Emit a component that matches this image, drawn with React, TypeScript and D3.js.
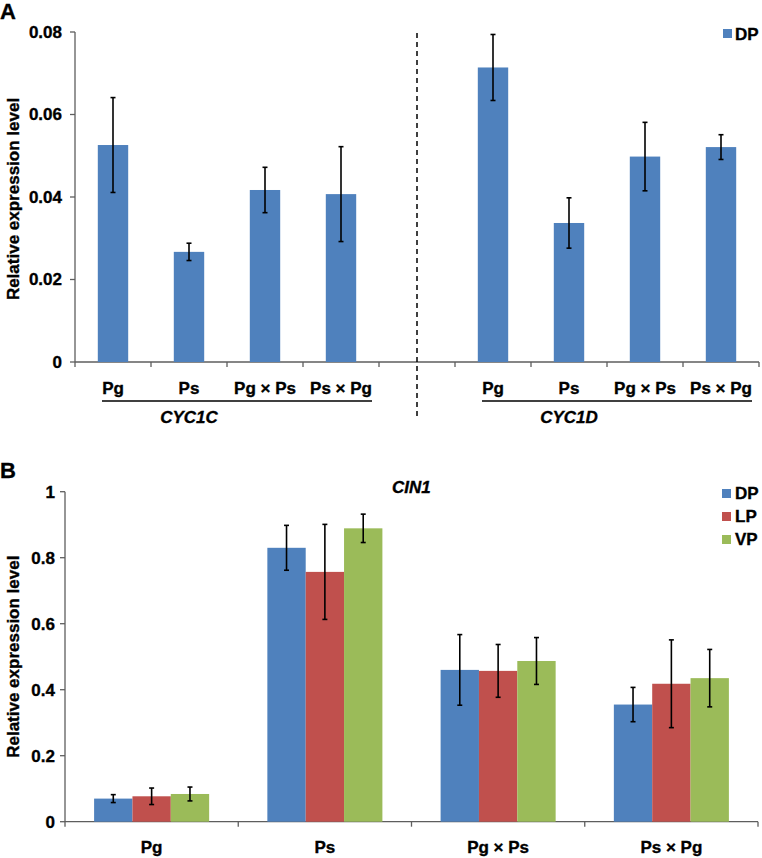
import React from "react";
import * as d3 from "d3";

const FONT = "'Liberation Sans', Arial, sans-serif";

// Panel A
const aSlots = ["C-Pg", "C-Ps", "C-PgPs", "C-PsPg", "gap", "D-Pg", "D-Ps", "D-PgPs", "D-PsPg"];
const aLabels = ["Pg", "Ps", "Pg × Ps", "Ps × Pg", "", "Pg", "Ps", "Pg × Ps", "Ps × Pg"];
const aValues = [0.0526, 0.0267, 0.0417, 0.0407, null, 0.0714, 0.0337, 0.0498, 0.0521];
const aErrors = [0.0115, 0.0021, 0.0055, 0.0115, null, 0.008, 0.0061, 0.0083, 0.003];
const aTicks = [0, 0.02, 0.04, 0.06, 0.08];
const aTickLabels = ["0", "0.02", "0.04", "0.06", "0.08"];
const aGenes = ["CYC1C", "CYC1D"];

// Panel B
const bGroups = ["Pg", "Ps", "Pg × Ps", "Ps × Pg"];
const bSeries = ["DP", "LP", "VP"];
const bColors = ["#4F81BD", "#C0504D", "#9BBB59"];
const bDP = [0.07, 0.83, 0.46, 0.355];
const bLP = [0.077, 0.757, 0.457, 0.418];
const bVP = [0.084, 0.889, 0.487, 0.435];
const bDPerr = [0.012, 0.068, 0.107, 0.052];
const bLPerr = [0.025, 0.144, 0.08, 0.133];
const bVPerr = [0.021, 0.043, 0.071, 0.087];
const bTicks = [0, 0.2, 0.4, 0.6, 0.8, 1];
const bTickLabels = ["0", "0.2", "0.4", "0.6", "0.8", "1"];

const AXIS = "#5e5e5e";

function ErrorBar({ x, y1, y2 }: { x: number; y1: number; y2: number }) {
  return (
    <g stroke="#000" strokeWidth={1.6}>
      <line x1={x} x2={x} y1={y1} y2={y2} />
      <line x1={x - 2.5} x2={x + 2.5} y1={y1} y2={y1} />
      <line x1={x - 2.5} x2={x + 2.5} y1={y2} y2={y2} />
    </g>
  );
}

export default function App() {
  // ----- Panel A scales
  const axL = 75, axR = 759, ayTop = 32, ayBot = 362;
  const xA = d3.scaleBand<string>().domain(aSlots).range([axL, axR]).paddingInner(0.6).paddingOuter(0.3);
  const yA = d3.scaleLinear().domain([0, 0.08]).range([ayBot, ayTop]);
  const stepA = xA.step();

  // ----- Panel B scales
  const bxL = 65, bxR = 758, byTop = 491.7, byBot = 821.7;
  const xB = d3.scaleBand<string>().domain(bGroups).range([bxL, bxR]).paddingInner(0.336).paddingOuter(0.168);
  const xBi = d3.scaleBand<string>().domain(bSeries).range([0, xB.bandwidth()]);
  const yB = d3.scaleLinear().domain([0, 1]).range([byBot, byTop]);
  const stepB = xB.step();
  const bVals = [bDP, bLP, bVP];
  const bErrs = [bDPerr, bLPerr, bVPerr];

  const tickStyle = {
    fontFamily: FONT,
    fontWeight: 700,
    fontSize: 17,
    fill: "#000",
    stroke: "#000",
    strokeWidth: 0.35,
  } as const;

  return (
    <svg width={762} height={858} style={{ position: "absolute", left: 0, top: 0, background: "#fff" }}>
      {/* ================= Panel A ================= */}
      <text x={0} y={19} style={{ ...tickStyle, fontSize: 22 }}>A</text>
      <text
        transform={`translate(19,${(ayTop + ayBot) / 2 + 2}) rotate(-90)`}
        textAnchor="middle"
        style={tickStyle}
      >
        Relative expression level
      </text>
      {/* y axis */}
      <line x1={axL} x2={axL} y1={ayTop} y2={ayBot} stroke={AXIS} strokeWidth={1.3} />
      {aTicks.map((t, i) => (
        <g key={"at" + i}>
          <line x1={axL - 5} x2={axL} y1={yA(t)} y2={yA(t)} stroke={AXIS} strokeWidth={1.3} />
          <text x={axL - 13} y={yA(t)} dy="0.35em" textAnchor="end" style={tickStyle}>
            {aTickLabels[i]}
          </text>
        </g>
      ))}
      {/* x axis */}
      <line x1={axL} x2={axR} y1={ayBot} y2={ayBot} stroke={AXIS} strokeWidth={1.3} />
      {d3.range(aSlots.length + 1).map((i) => (
        <line key={"axt" + i} x1={axL + i * stepA} x2={axL + i * stepA} y1={ayBot} y2={ayBot + 5} stroke={AXIS} strokeWidth={1.3} />
      ))}
      {/* bars */}
      {aSlots.map((s, i) => {
        const v = aValues[i];
        const e = aErrors[i];
        if (v == null || e == null) return null;
        const x0 = xA(s)!;
        const cx = x0 + xA.bandwidth() / 2;
        return (
          <g key={"ab" + i}>
            <rect x={x0} y={yA(v)} width={xA.bandwidth()} height={ayBot - yA(v)} fill={bColors[0]} />
            <ErrorBar x={cx} y1={yA(v + e)} y2={yA(v - e)} />
          </g>
        );
      })}
      {/* category labels */}
      {aSlots.map((s, i) => (
        <text key={"al" + i} x={xA(s)! + xA.bandwidth() / 2} y={388} dy="0.35em" textAnchor="middle" style={tickStyle}>
          {aLabels[i]}
        </text>
      ))}
      {/* gene brackets */}
      {aGenes.map((g, gi) => {
        const first = aSlots[gi * 5];
        const last = aSlots[gi * 5 + 3];
        const x1 = xA(first)! + xA.bandwidth() / 2 - 11;
        const x2 = xA(last)! + xA.bandwidth() / 2 + 31;
        const mid = (xA(first)! + xA(aSlots[gi * 5 + 1])! + xA.bandwidth()) / 2 + stepA / 2;
        return (
          <g key={"g" + gi}>
            <line x1={x1} x2={x2} y1={401} y2={401} stroke="#000" strokeWidth={1.6} />
            <text x={mid} y={417} dy="0.35em" textAnchor="middle" style={{ ...tickStyle, fontStyle: "italic" }}>
              {g}
            </text>
          </g>
        );
      })}
      {/* dashed separator */}
      <line
        x1={xA("gap")! + xA.bandwidth() / 2}
        x2={xA("gap")! + xA.bandwidth() / 2}
        y1={33}
        y2={420}
        stroke="#000"
        strokeWidth={1.5}
        strokeDasharray="5,4"
      />
      {/* legend A */}
      <rect x={723} y={29} width={9} height={9} fill={bColors[0]} />
      <text x={735} y={34} dy="0.35em" style={tickStyle}>DP</text>

      {/* ================= Panel B ================= */}
      <text x={0} y={478} style={{ ...tickStyle, fontSize: 22 }}>B</text>
      <text x={392} y={487} dy="0.35em" style={{ ...tickStyle, fontStyle: "italic" }}>CIN1</text>
      <text
        transform={`translate(19,${(byTop + byBot) / 2}) rotate(-90)`}
        textAnchor="middle"
        style={tickStyle}
      >
        Relative expression level
      </text>
      <line x1={bxL} x2={bxL} y1={byTop} y2={byBot} stroke={AXIS} strokeWidth={1.3} />
      {bTicks.map((t, i) => (
        <g key={"bt" + i}>
          <line x1={bxL - 5} x2={bxL} y1={yB(t)} y2={yB(t)} stroke={AXIS} strokeWidth={1.3} />
          <text x={bxL - 10} y={yB(t)} dy="0.35em" textAnchor="end" style={tickStyle}>
            {bTickLabels[i]}
          </text>
        </g>
      ))}
      <line x1={bxL} x2={bxR} y1={byBot} y2={byBot} stroke={AXIS} strokeWidth={1.3} />
      {d3.range(bGroups.length + 1).map((i) => (
        <line key={"bxt" + i} x1={bxL + i * stepB} x2={bxL + i * stepB} y1={byBot} y2={byBot + 5} stroke={AXIS} strokeWidth={1.3} />
      ))}
      {bGroups.map((g, gi) => (
        <g key={"bg" + gi} transform={`translate(${xB(g)},0)`}>
          {bSeries.map((s, si) => {
            const v = bVals[si][gi];
            return (
              <rect key={s} x={xBi(s)} y={yB(v)} width={xBi.bandwidth()} height={byBot - yB(v)} fill={bColors[si]} />
            );
          })}
          {bSeries.map((s, si) => {
            const v = bVals[si][gi];
            const e = bErrs[si][gi];
            return <ErrorBar key={"e" + s} x={xBi(s)! + xBi.bandwidth() / 2} y1={yB(v + e)} y2={yB(v - e)} />;
          })}
          <text x={xB.bandwidth() / 2} y={847} dy="0.35em" textAnchor="middle" style={tickStyle}>
            {g}
          </text>
        </g>
      ))}
      {/* legend B */}
      {bSeries.map((s, si) => (
        <g key={"lg" + s}>
          <rect x={722} y={489 + si * 23} width={9} height={9} fill={bColors[si]} />
          <text x={735} y={493.5 + si * 23} dy="0.35em" style={tickStyle}>{s}</text>
        </g>
      ))}
    </svg>
  );
}
